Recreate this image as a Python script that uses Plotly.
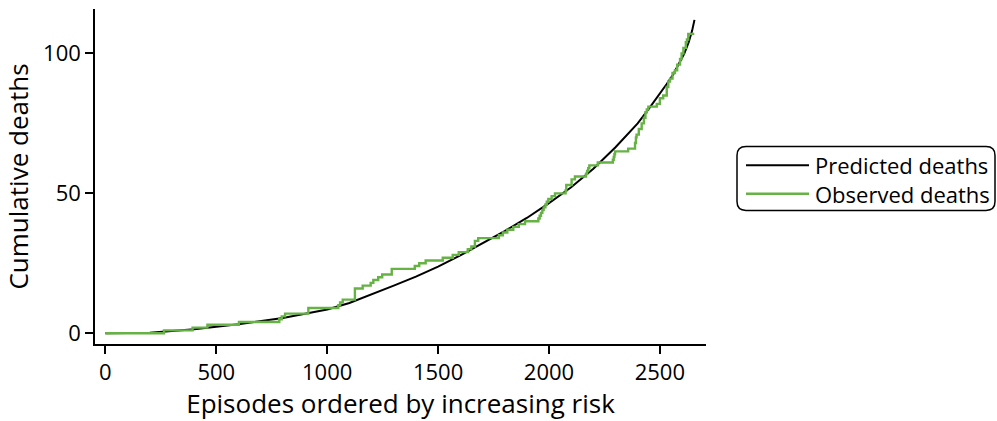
import plotly.graph_objects as go

# Predicted cumulative deaths (smooth curve)
pred_x = [0, 200, 400, 600, 800, 1000, 1100, 1200, 1300, 1400, 1500, 1600, 1700,
          1800, 1900, 2000, 2100, 2200, 2300, 2400, 2450, 2500, 2530, 2560, 2590,
          2610, 2630, 2645, 2656]
pred_y = [0, 0.2, 1.4, 3.2, 5.4, 8.5, 10.8, 13.8, 17.0, 20.2, 23.8, 27.8, 32.0,
          36.5, 41.2, 46.5, 52.2, 58.8, 66.5, 75.0, 80.2, 85.5, 89.0, 92.5, 96.8,
          100.0, 104.0, 108.0, 112.0]

# Observed cumulative deaths (step function)
obs_x = [0, 264, 393, 460, 602, 784, 795, 810, 915, 1050, 1058, 1070, 1125, 1160,
         1196, 1208, 1230, 1248, 1291, 1395, 1415, 1444, 1521, 1566, 1593, 1634,
         1650, 1666, 1681, 1774, 1792, 1812, 1839, 1864, 1892, 1952, 1958, 1964,
         1970, 1976, 1984, 1990, 1997, 2012, 2027, 2075, 2078, 2102, 2117, 2167,
         2172, 2177, 2182, 2220, 2288, 2292, 2295, 2298, 2357, 2388, 2392, 2395,
         2405, 2418, 2428, 2435, 2441, 2448, 2486, 2500, 2515, 2531, 2538, 2546,
         2557, 2568, 2578, 2591, 2598, 2606, 2617, 2622, 2628, 2655]
obs_y = [0, 1, 2, 3, 4, 5, 6, 7, 9, 10, 11, 12, 16, 17,
         18, 19, 20, 21, 23, 24, 25, 26, 27, 28, 29, 30,
         31, 33, 34, 35, 36, 37, 38, 39, 40, 41, 42, 43,
         44, 45, 46, 47, 48, 49, 50, 51, 53, 55, 56, 57,
         58, 59, 60, 61, 62, 63, 64, 65, 66, 68, 70, 71,
         73, 75, 77, 79, 80, 81, 82, 84, 85, 88, 90, 91,
         93, 94, 96, 98, 100, 102, 104, 105, 107, 107]

x_ticks = [0, 500, 1000, 1500, 2000, 2500]
y_ticks = [0, 50, 100]
series_names = ["Predicted deaths", "Observed deaths"]

BLACK = "#000000"
GREEN = "#66b245"
FONT = "Open Sans"
FS = 22

fig = go.Figure()
fig.add_trace(go.Scatter(x=pred_x, y=pred_y, mode="lines", name=series_names[0],
                         line=dict(color=BLACK, width=2), showlegend=False))
fig.add_trace(go.Scatter(x=obs_x, y=obs_y, mode="lines", name=series_names[1],
                         line=dict(color=GREEN, width=2.4, shape="hv"), showlegend=False))

# plot area in pixels
L, R, T, B = 95, 706, 9, 350
W, H = 997, 421
pw, ph = R - L, B - T

def px(xp):
    return (xp - L) / pw

def py(yp):
    return (B - yp) / ph

# manual legend with rounded box
bx0, bx1, by0, by1 = 737, 995, 149, 214
r = 9
rx, ry = r / pw, r / ph
X0, X1, Y0, Y1 = px(bx0), px(bx1), py(by1), py(by0)
path = (f"M{X0+rx},{Y1} L{X1-rx},{Y1} Q{X1},{Y1} {X1},{Y1-ry} "
        f"L{X1},{Y0+ry} Q{X1},{Y0} {X1-rx},{Y0} L{X0+rx},{Y0} "
        f"Q{X0},{Y0} {X0},{Y0+ry} L{X0},{Y1-ry} Q{X0},{Y1} {X0+rx},{Y1} Z")
shapes = [dict(type="path", xref="paper", yref="paper", path=path,
               line=dict(color=BLACK, width=1.5), fillcolor="white", layer="above")]
rows = [168, 197]
colors = [BLACK, GREEN]
annotations = []
for i, (rowy, c) in enumerate(zip(rows, colors)):
    shapes.append(dict(type="line", xref="paper", yref="paper",
                       x0=px(746), x1=px(809), y0=py(rowy), y1=py(rowy),
                       line=dict(color=c, width=2 if i == 0 else 2.4)))
    annotations.append(dict(xref="paper", yref="paper", x=px(813), y=py(rowy),
                            xanchor="left", yanchor="middle", showarrow=False,
                            text=series_names[i], font=dict(family=FONT, size=FS, color=BLACK)))

fig.update_layout(
    width=W, height=H,
    margin=dict(l=L, r=W - R, t=T, b=H - B, pad=0),
    paper_bgcolor="white", plot_bgcolor="white",
    font=dict(family=FONT, size=FS, color=BLACK),
    showlegend=False,
    shapes=shapes, annotations=annotations,
)
fig.update_xaxes(range=[-47, 2708], tickvals=x_ticks, ticks="outside", ticklen=8,
                 tickwidth=1.5, tickcolor=BLACK, showline=True, linecolor=BLACK,
                 linewidth=1.5, showgrid=False, zeroline=False,
                 title=dict(text="Episodes ordered by increasing risk", standoff=8),
                 tickfont=dict(family=FONT, size=FS, color=BLACK))
fig.update_yaxes(range=[-3.86, 115.9], tickvals=y_ticks, ticks="outside", ticklen=8,
                 tickwidth=1.5, tickcolor=BLACK, showline=True, linecolor=BLACK,
                 linewidth=1.5, showgrid=False, zeroline=False,
                 title=dict(text="Cumulative deaths", standoff=12),
                 tickfont=dict(family=FONT, size=FS, color=BLACK))

fig.write_html("out.html")
